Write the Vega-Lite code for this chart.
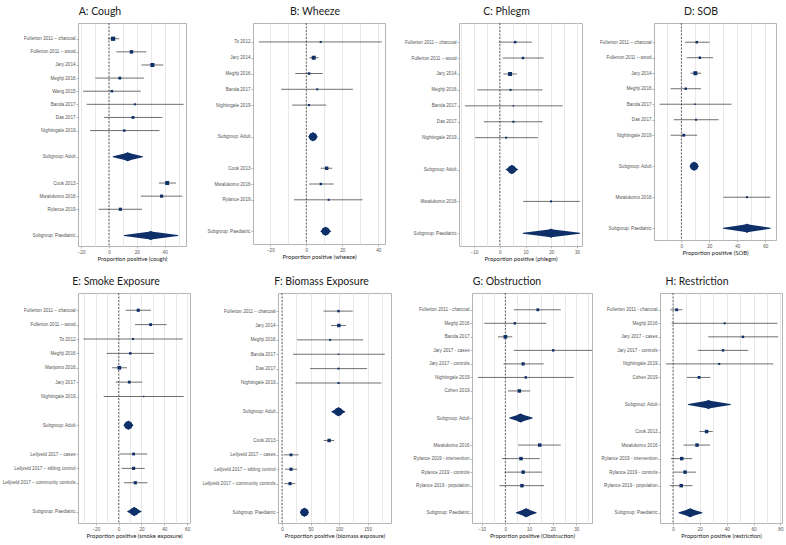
{
"$schema": "https://vega.github.io/schema/vega-lite/v6.json",
"padding": {"left": 0, "top": 6, "right": 0, "bottom": 0},
"datasets": {
"rows": [
{"p":"A","label":"Fullerton 2011 – charcoal","est":3.0,"lo":-0.8,"hi":7.4,"k":"s","w":9},
{"p":"A","label":"Fullerton 2011 – wood","est":16.2,"lo":5.3,"hi":26.8,"k":"s","w":6},
{"p":"A","label":"Jary 2014","est":31.2,"lo":23.4,"hi":39.0,"k":"s","w":8},
{"p":"A","label":"Meghji 2016","est":7.8,"lo":-9.7,"hi":25.1,"k":"s","w":4},
{"p":"A","label":"Wang 2015","est":2.1,"lo":-18.6,"hi":22.8,"k":"s","w":3},
{"p":"A","label":"Banda 2017","est":18.6,"lo":-16.0,"hi":53.6,"k":"s","w":2},
{"p":"A","label":"Das 2017","est":17.3,"lo":-3.4,"hi":38.4,"k":"s","w":4},
{"p":"A","label":"Nightingale 2019","est":11.0,"lo":-13.5,"hi":36.3,"k":"s","w":3},
{"p":"A","label":"Subgroup: Adult","est":13.5,"lo":3.0,"hi":24.1,"k":"g"},
{"p":"A","label":"Cook 2013","est":41.8,"lo":35.9,"hi":48.1,"k":"s","w":8},
{"p":"A","label":"Mwalukomo 2016","est":37.8,"lo":22.8,"hi":52.7,"k":"s","w":5},
{"p":"A","label":"Rylance 2019","est":8.2,"lo":-7.4,"hi":23.8,"k":"s","w":5},
{"p":"A","label":"Subgroup: Paediatric","est":30.0,"lo":11.0,"hi":49.4,"k":"g"},
{"p":"B","label":"To 2012","est":8.0,"lo":-26.3,"hi":41.9,"k":"s","w":2},
{"p":"B","label":"Jary 2014","est":4.1,"lo":1.7,"hi":6.7,"k":"s","w":8},
{"p":"B","label":"Meghji 2016","est":1.5,"lo":-6.1,"hi":9.1,"k":"s","w":3},
{"p":"B","label":"Banda 2017","est":6.1,"lo":-13.9,"hi":25.9,"k":"s","w":2},
{"p":"B","label":"Nightingale 2019","est":1.5,"lo":-7.8,"hi":11.1,"k":"s","w":2},
{"p":"B","label":"Subgroup: Adult","est":3.7,"lo":1.5,"hi":5.9,"k":"g"},
{"p":"B","label":"Cook 2013","est":11.3,"lo":8.0,"hi":14.4,"k":"s","w":6},
{"p":"B","label":"Mwalukomo 2016","est":8.1,"lo":1.5,"hi":15.2,"k":"s","w":3},
{"p":"B","label":"Rylance 2019","est":12.4,"lo":-6.9,"hi":31.3,"k":"s","w":2},
{"p":"B","label":"Subgroup: Paediatric","est":10.7,"lo":8.1,"hi":13.5,"k":"g"},
{"p":"C","label":"Fullerton 2011 – charcoal","est":6.0,"lo":-0.4,"hi":12.5,"k":"s","w":3},
{"p":"C","label":"Fullerton 2011 – wood","est":9.0,"lo":1.2,"hi":17.0,"k":"s","w":3},
{"p":"C","label":"Jary 2014","est":4.0,"lo":1.4,"hi":6.6,"k":"s","w":8},
{"p":"C","label":"Meghji 2016","est":4.2,"lo":-8.7,"hi":16.6,"k":"s","w":2},
{"p":"C","label":"Banda 2017","est":5.3,"lo":-13.5,"hi":24.4,"k":"s","w":1},
{"p":"C","label":"Das 2017","est":5.3,"lo":-6.2,"hi":16.6,"k":"s","w":2},
{"p":"C","label":"Nightingale 2019","est":2.5,"lo":-9.5,"hi":14.8,"k":"s","w":2},
{"p":"C","label":"Subgroup: Adult","est":4.7,"lo":2.5,"hi":6.9,"k":"g"},
{"p":"C","label":"Mwalukomo 2016","est":19.9,"lo":9.1,"hi":31.0,"k":"s","w":2},
{"p":"C","label":"Subgroup: Paediatric","est":19.9,"lo":9.1,"hi":31.0,"k":"g"},
{"p":"D","label":"Fullerton 2011 – charcoal","est":11.0,"lo":2.6,"hi":20.1,"k":"s","w":3},
{"p":"D","label":"Fullerton 2011 – wood","est":13.2,"lo":3.8,"hi":22.7,"k":"s","w":3},
{"p":"D","label":"Jary 2014","est":10.0,"lo":6.5,"hi":14.1,"k":"s","w":8},
{"p":"D","label":"Meghji 2016","est":3.1,"lo":-7.7,"hi":14.1,"k":"s","w":3},
{"p":"D","label":"Banda 2017","est":9.8,"lo":-15.5,"hi":35.9,"k":"s","w":1},
{"p":"D","label":"Das 2017","est":10.5,"lo":-5.5,"hi":26.6,"k":"s","w":2},
{"p":"D","label":"Nightingale 2019","est":1.7,"lo":-7.7,"hi":11.2,"k":"s","w":4},
{"p":"D","label":"Subgroup: Adult","est":9.1,"lo":6.5,"hi":12.0,"k":"g"},
{"p":"D","label":"Mwalukomo 2016","est":46.9,"lo":30.1,"hi":63.6,"k":"s","w":2},
{"p":"D","label":"Subgroup: Paediatric","est":46.9,"lo":30.1,"hi":63.6,"k":"g"},
{"p":"E","label":"Fullerton 2011 – charcoal","est":17.2,"lo":6.1,"hi":28.3,"k":"s","w":5},
{"p":"E","label":"Fullerton 2011 – wood","est":28.0,"lo":14.3,"hi":42.0,"k":"s","w":4},
{"p":"E","label":"To 2012","est":12.6,"lo":-30.9,"hi":56.1,"k":"s","w":2},
{"p":"E","label":"Meghji 2016","est":10.2,"lo":-10.5,"hi":30.7,"k":"s","w":3},
{"p":"E","label":"Manjomo 2016","est":0.6,"lo":-5.8,"hi":7.3,"k":"s","w":7},
{"p":"E","label":"Jary 2017","est":9.3,"lo":-2.6,"hi":20.7,"k":"s","w":4},
{"p":"E","label":"Nightingale 2019","est":21.9,"lo":-13.1,"hi":56.9,"k":"s","w":1},
{"p":"E","label":"Subgroup: Adult","est":8.5,"lo":4.7,"hi":12.6,"k":"g"},
{"p":"E","label":"Lelijveld 2017 – cases","est":13.1,"lo":0.9,"hi":25.1,"k":"s","w":4},
{"p":"E","label":"Lelijveld 2017 – sibling control","est":13.1,"lo":2.6,"hi":22.8,"k":"s","w":5},
{"p":"E","label":"Lelijveld 2017 – community controls","est":14.6,"lo":4.7,"hi":25.1,"k":"s","w":5},
{"p":"E","label":"Subgroup: Paediatric","est":13.7,"lo":7.9,"hi":19.6,"k":"g"},
{"p":"F","label":"Fullerton 2011 – charcoal","est":99,"lo":72.6,"hi":124,"k":"s","w":3},
{"p":"F","label":"Jary 2014","est":99.6,"lo":86,"hi":112,"k":"s","w":6},
{"p":"F","label":"Meghji 2016","est":84.4,"lo":26.4,"hi":142,"k":"s","w":2},
{"p":"F","label":"Banda 2017","est":99,"lo":19.3,"hi":180,"k":"s","w":1},
{"p":"F","label":"Das 2017","est":99,"lo":49.2,"hi":149,"k":"s","w":2},
{"p":"F","label":"Nightingale 2019","est":99,"lo":24,"hi":174,"k":"s","w":2},
{"p":"F","label":"Subgroup: Adult","est":99,"lo":87.3,"hi":110,"k":"g"},
{"p":"F","label":"Cook 2013","est":82.6,"lo":73.2,"hi":91.4,"k":"s","w":6},
{"p":"F","label":"Lelijveld 2017 – cases","est":15.8,"lo":2.9,"hi":29.3,"k":"s","w":4},
{"p":"F","label":"Lelijveld 2017 – sibling control","est":15.8,"lo":5.3,"hi":26.4,"k":"s","w":5},
{"p":"F","label":"Lelijveld 2017 – community controls","est":14.1,"lo":4.1,"hi":23.4,"k":"s","w":5},
{"p":"F","label":"Subgroup: Paediatric","est":39.3,"lo":34,"hi":44.5,"k":"g"},
{"p":"G","label":"Fullerton 2011 - charcoal","est":13.7,"lo":3.6,"hi":23.4,"k":"s","w":4},
{"p":"G","label":"Meghji 2016","est":4.0,"lo":-8.9,"hi":17.3,"k":"s","w":3},
{"p":"G","label":"Banda 2017","est":0.0,"lo":-3.1,"hi":2.9,"k":"s","w":7},
{"p":"G","label":"Jary 2017 - cases","est":20.2,"lo":3.6,"hi":36.8,"k":"s","w":3},
{"p":"G","label":"Jary 2017 - controls","est":7.5,"lo":-0.8,"hi":16.2,"k":"s","w":5},
{"p":"G","label":"Nightingale 2019","est":8.6,"lo":-11.6,"hi":28.9,"k":"s","w":3},
{"p":"G","label":"Cohen 2019","est":5.9,"lo":1.1,"hi":10.5,"k":"s","w":6},
{"p":"G","label":"Subgroup: Adult","est":6.4,"lo":1.8,"hi":11.4,"k":"g"},
{"p":"G","label":"Mwalukomo 2016","est":14.5,"lo":5.4,"hi":23.4,"k":"s","w":6},
{"p":"G","label":"Rylance 2019 - intervention","est":6.6,"lo":-1.4,"hi":14.5,"k":"s","w":6},
{"p":"G","label":"Rylance 2019 - controls","est":7.5,"lo":-0.4,"hi":15.5,"k":"s","w":6},
{"p":"G","label":"Rylance 2019 - population","est":7.0,"lo":-2.5,"hi":16.3,"k":"s","w":6},
{"p":"G","label":"Subgroup: Paediatric","est":8.8,"lo":4.6,"hi":13.0,"k":"g"},
{"p":"H","label":"Fullerton 2011 - charcoal","est":2.7,"lo":-1.9,"hi":7.0,"k":"s","w":4},
{"p":"H","label":"Meghji 2016","est":38.5,"lo":-1.0,"hi":77.8,"k":"s","w":2},
{"p":"H","label":"Jary 2017 - cases","est":52.1,"lo":26.2,"hi":78.3,"k":"s","w":3},
{"p":"H","label":"Jary 2017 - controls","est":37.3,"lo":18.4,"hi":56.0,"k":"s","w":3},
{"p":"H","label":"Nightingale 2019","est":34.4,"lo":-5.3,"hi":74.7,"k":"s","w":2},
{"p":"H","label":"Cohen 2019","est":19.4,"lo":10.4,"hi":27.9,"k":"s","w":4},
{"p":"H","label":"Subgroup: Adult","est":26.4,"lo":11.4,"hi":42.7,"k":"g"},
{"p":"H","label":"Cook 2013","est":25.0,"lo":19.6,"hi":29.6,"k":"s","w":6},
{"p":"H","label":"Mwalukomo 2016","est":17.9,"lo":7.8,"hi":27.6,"k":"s","w":6},
{"p":"H","label":"Rylance 2019 - intervention","est":6.5,"lo":-1.5,"hi":14.3,"k":"s","w":6},
{"p":"H","label":"Rylance 2019 - controls","est":9.0,"lo":0.5,"hi":17.2,"k":"s","w":6},
{"p":"H","label":"Rylance 2019 - population","est":6.1,"lo":-2.4,"hi":14.5,"k":"s","w":6},
{"p":"H","label":"Subgroup: Paediatric","est":12.8,"lo":4.4,"hi":21.6,"k":"g"}
]
},
"vconcat": [
{"hconcat": [
{"title": {"text": "A: Cough", "dx": -32}, "width": 108, "height": 223,
 "resolve": {"scale": {"size": "independent"}},
 "layer": [
  {"data": {"values": [{"ref": 0}]}, "mark": {"type": "rule", "color": "#444", "strokeDash": [2, 1.5], "strokeWidth": 0.8},
   "encoding": {"x": {"field": "ref", "type": "quantitative", "title": "Proportion positive (cough)", "scale": {"domain": [-22.2, 55.3], "nice": false, "zero": false}, "axis": {"values": [-20,-10,0,10,20,30,40,50], "labelExpr": "datum.value % 20 === 0 ? datum.label : ''", "tickOpacity": {"condition": {"test": "datum.value % 20 === 0", "value": 1}, "value": 0}}}}},
  {"data": {"name": "rows"}, "transform": [{"filter": "datum.p === 'A' && datum.k === 's'"}], "mark": {"type": "rule", "color": "#4a4a4a", "strokeWidth": 0.8, "clip": true},
   "encoding": {"x": {"field": "lo", "type": "quantitative", "title": "Proportion positive (cough)", "scale": {"domain": [-22.2, 55.3], "nice": false, "zero": false}, "axis": {"values": [-20,-10,0,10,20,30,40,50], "labelExpr": "datum.value % 20 === 0 ? datum.label : ''", "tickOpacity": {"condition": {"test": "datum.value % 20 === 0", "value": 1}, "value": 0}}}, "x2": {"field": "hi"},
    "y": {"field": "label", "type": "nominal", "scale": {"type": "point", "domain": ["Fullerton 2011 – charcoal","Fullerton 2011 – wood","Jary 2014","Meghji 2016","Wang 2015","Banda 2017","Das 2017","Nightingale 2019"," ","Subgroup: Adult","  ","Cook 2013","Mwalukomo 2016","Rylance 2019","   ","Subgroup: Paediatric"], "padding": 1.28, "align": 0.6}, "axis": {"values": ["Fullerton 2011 – charcoal","Fullerton 2011 – wood","Jary 2014","Meghji 2016","Wang 2015","Banda 2017","Das 2017","Nightingale 2019","Subgroup: Adult","Cook 2013","Mwalukomo 2016","Rylance 2019","Subgroup: Paediatric"], "title": null, "minExtent": 63}}}},
  {"data": {"name": "rows"}, "transform": [{"filter": "datum.p === 'A' && datum.k === 's'"}], "mark": {"type": "point", "shape": "square", "filled": true, "color": "#0e2f68", "opacity": 1, "clip": true},
   "encoding": {"x": {"field": "est", "type": "quantitative", "title": "Proportion positive (cough)", "scale": {"domain": [-22.2, 55.3], "nice": false, "zero": false}, "axis": {"values": [-20,-10,0,10,20,30,40,50], "labelExpr": "datum.value % 20 === 0 ? datum.label : ''", "tickOpacity": {"condition": {"test": "datum.value % 20 === 0", "value": 1}, "value": 0}}},
    "y": {"field": "label", "type": "nominal", "scale": {"type": "point", "domain": ["Fullerton 2011 – charcoal","Fullerton 2011 – wood","Jary 2014","Meghji 2016","Wang 2015","Banda 2017","Das 2017","Nightingale 2019"," ","Subgroup: Adult","  ","Cook 2013","Mwalukomo 2016","Rylance 2019","   ","Subgroup: Paediatric"], "padding": 1.28, "align": 0.6}, "axis": {"values": ["Fullerton 2011 – charcoal","Fullerton 2011 – wood","Jary 2014","Meghji 2016","Wang 2015","Banda 2017","Das 2017","Nightingale 2019","Subgroup: Adult","Cook 2013","Mwalukomo 2016","Rylance 2019","Subgroup: Paediatric"], "title": null, "minExtent": 63}},
    "size": {"field": "w", "type": "quantitative", "scale": {"domain": [0, 10], "range": [0, 20]}, "legend": null}}},
  {"data": {"name": "rows"}, "transform": [{"filter": "datum.p === 'A' && datum.k === 'g'"}], "mark": {"type": "point", "shape": "diamond", "filled": true, "size": 90, "color": "#0e2f68", "opacity": 1, "clip": true},
   "encoding": {"x": {"field": "est", "type": "quantitative", "title": "Proportion positive (cough)", "scale": {"domain": [-22.2, 55.3], "nice": false, "zero": false}, "axis": {"values": [-20,-10,0,10,20,30,40,50], "labelExpr": "datum.value % 20 === 0 ? datum.label : ''", "tickOpacity": {"condition": {"test": "datum.value % 20 === 0", "value": 1}, "value": 0}}},
    "y": {"field": "label", "type": "nominal", "scale": {"type": "point", "domain": ["Fullerton 2011 – charcoal","Fullerton 2011 – wood","Jary 2014","Meghji 2016","Wang 2015","Banda 2017","Das 2017","Nightingale 2019"," ","Subgroup: Adult","  ","Cook 2013","Mwalukomo 2016","Rylance 2019","   ","Subgroup: Paediatric"], "padding": 1.28, "align": 0.6}, "axis": {"values": ["Fullerton 2011 – charcoal","Fullerton 2011 – wood","Jary 2014","Meghji 2016","Wang 2015","Banda 2017","Das 2017","Nightingale 2019","Subgroup: Adult","Cook 2013","Mwalukomo 2016","Rylance 2019","Subgroup: Paediatric"], "title": null, "minExtent": 63}}}},
  {"data": {"name": "rows"}, "transform": [{"filter": "datum.p === 'A' && datum.k === 'g'"}, {"fold": ["lo", "est"], "as": ["pt", "xv"]}], "mark": {"type": "trail", "color": "#0e2f68", "clip": true},
   "encoding": {"x": {"field": "xv", "type": "quantitative", "title": "Proportion positive (cough)", "scale": {"domain": [-22.2, 55.3], "nice": false, "zero": false}, "axis": {"values": [-20,-10,0,10,20,30,40,50], "labelExpr": "datum.value % 20 === 0 ? datum.label : ''", "tickOpacity": {"condition": {"test": "datum.value % 20 === 0", "value": 1}, "value": 0}}},
    "y": {"field": "label", "type": "nominal", "scale": {"type": "point", "domain": ["Fullerton 2011 – charcoal","Fullerton 2011 – wood","Jary 2014","Meghji 2016","Wang 2015","Banda 2017","Das 2017","Nightingale 2019"," ","Subgroup: Adult","  ","Cook 2013","Mwalukomo 2016","Rylance 2019","   ","Subgroup: Paediatric"], "padding": 1.28, "align": 0.6}, "axis": {"values": ["Fullerton 2011 – charcoal","Fullerton 2011 – wood","Jary 2014","Meghji 2016","Wang 2015","Banda 2017","Das 2017","Nightingale 2019","Subgroup: Adult","Cook 2013","Mwalukomo 2016","Rylance 2019","Subgroup: Paediatric"], "title": null, "minExtent": 63}},
    "detail": {"field": "label"},
    "size": {"field": "pt", "type": "nominal", "scale": {"type": "point", "domain": ["lo", "est"], "range": [0, 8], "padding": 0}, "legend": null}}},
  {"data": {"name": "rows"}, "transform": [{"filter": "datum.p === 'A' && datum.k === 'g'"}, {"fold": ["est", "hi"], "as": ["pt", "xv"]}], "mark": {"type": "trail", "color": "#0e2f68", "clip": true},
   "encoding": {"x": {"field": "xv", "type": "quantitative", "title": "Proportion positive (cough)", "scale": {"domain": [-22.2, 55.3], "nice": false, "zero": false}, "axis": {"values": [-20,-10,0,10,20,30,40,50], "labelExpr": "datum.value % 20 === 0 ? datum.label : ''", "tickOpacity": {"condition": {"test": "datum.value % 20 === 0", "value": 1}, "value": 0}}},
    "y": {"field": "label", "type": "nominal", "scale": {"type": "point", "domain": ["Fullerton 2011 – charcoal","Fullerton 2011 – wood","Jary 2014","Meghji 2016","Wang 2015","Banda 2017","Das 2017","Nightingale 2019"," ","Subgroup: Adult","  ","Cook 2013","Mwalukomo 2016","Rylance 2019","   ","Subgroup: Paediatric"], "padding": 1.28, "align": 0.6}, "axis": {"values": ["Fullerton 2011 – charcoal","Fullerton 2011 – wood","Jary 2014","Meghji 2016","Wang 2015","Banda 2017","Das 2017","Nightingale 2019","Subgroup: Adult","Cook 2013","Mwalukomo 2016","Rylance 2019","Subgroup: Paediatric"], "title": null, "minExtent": 63}},
    "detail": {"field": "label"},
    "size": {"field": "pt", "type": "nominal", "scale": {"type": "point", "domain": ["hi", "est"], "range": [0, 8], "padding": 0}, "legend": null}}}
 ]},
{"title": {"text": "B: Wheeze", "dx": -4}, "width": 132, "height": 221,
 "resolve": {"scale": {"size": "independent"}},
 "layer": [
  {"data": {"values": [{"ref": 0}]}, "mark": {"type": "rule", "color": "#444", "strokeDash": [2, 1.5], "strokeWidth": 0.8},
   "encoding": {"x": {"field": "ref", "type": "quantitative", "title": "Proportion positive (wheeze)", "scale": {"domain": [-29.6, 43.7], "nice": false, "zero": false}, "axis": {"values": [-20,-10,0,10,20,30,40], "labelExpr": "datum.value % 20 === 0 ? datum.label : ''", "tickOpacity": {"condition": {"test": "datum.value % 20 === 0", "value": 1}, "value": 0}}}}},
  {"data": {"name": "rows"}, "transform": [{"filter": "datum.p === 'B' && datum.k === 's'"}], "mark": {"type": "rule", "color": "#4a4a4a", "strokeWidth": 0.8, "clip": true},
   "encoding": {"x": {"field": "lo", "type": "quantitative", "title": "Proportion positive (wheeze)", "scale": {"domain": [-29.6, 43.7], "nice": false, "zero": false}, "axis": {"values": [-20,-10,0,10,20,30,40], "labelExpr": "datum.value % 20 === 0 ? datum.label : ''", "tickOpacity": {"condition": {"test": "datum.value % 20 === 0", "value": 1}, "value": 0}}}, "x2": {"field": "hi"},
    "y": {"field": "label", "type": "nominal", "scale": {"type": "point", "domain": ["To 2012","Jary 2014","Meghji 2016","Banda 2017","Nightingale 2019"," ","Subgroup: Adult","  ","Cook 2013","Mwalukomo 2016","Rylance 2019","   ","Subgroup: Paediatric"], "padding": 1.28, "align": 0.6}, "axis": {"values": ["To 2012","Jary 2014","Meghji 2016","Banda 2017","Nightingale 2019","Subgroup: Adult","Cook 2013","Mwalukomo 2016","Rylance 2019","Subgroup: Paediatric"], "title": null, "minExtent": 65}}}},
  {"data": {"name": "rows"}, "transform": [{"filter": "datum.p === 'B' && datum.k === 's'"}], "mark": {"type": "point", "shape": "square", "filled": true, "color": "#0e2f68", "opacity": 1, "clip": true},
   "encoding": {"x": {"field": "est", "type": "quantitative", "title": "Proportion positive (wheeze)", "scale": {"domain": [-29.6, 43.7], "nice": false, "zero": false}, "axis": {"values": [-20,-10,0,10,20,30,40], "labelExpr": "datum.value % 20 === 0 ? datum.label : ''", "tickOpacity": {"condition": {"test": "datum.value % 20 === 0", "value": 1}, "value": 0}}},
    "y": {"field": "label", "type": "nominal", "scale": {"type": "point", "domain": ["To 2012","Jary 2014","Meghji 2016","Banda 2017","Nightingale 2019"," ","Subgroup: Adult","  ","Cook 2013","Mwalukomo 2016","Rylance 2019","   ","Subgroup: Paediatric"], "padding": 1.28, "align": 0.6}, "axis": {"values": ["To 2012","Jary 2014","Meghji 2016","Banda 2017","Nightingale 2019","Subgroup: Adult","Cook 2013","Mwalukomo 2016","Rylance 2019","Subgroup: Paediatric"], "title": null, "minExtent": 65}},
    "size": {"field": "w", "type": "quantitative", "scale": {"domain": [0, 10], "range": [0, 20]}, "legend": null}}},
  {"data": {"name": "rows"}, "transform": [{"filter": "datum.p === 'B' && datum.k === 'g'"}], "mark": {"type": "point", "shape": "diamond", "filled": true, "size": 90, "color": "#0e2f68", "opacity": 1, "clip": true},
   "encoding": {"x": {"field": "est", "type": "quantitative", "title": "Proportion positive (wheeze)", "scale": {"domain": [-29.6, 43.7], "nice": false, "zero": false}, "axis": {"values": [-20,-10,0,10,20,30,40], "labelExpr": "datum.value % 20 === 0 ? datum.label : ''", "tickOpacity": {"condition": {"test": "datum.value % 20 === 0", "value": 1}, "value": 0}}},
    "y": {"field": "label", "type": "nominal", "scale": {"type": "point", "domain": ["To 2012","Jary 2014","Meghji 2016","Banda 2017","Nightingale 2019"," ","Subgroup: Adult","  ","Cook 2013","Mwalukomo 2016","Rylance 2019","   ","Subgroup: Paediatric"], "padding": 1.28, "align": 0.6}, "axis": {"values": ["To 2012","Jary 2014","Meghji 2016","Banda 2017","Nightingale 2019","Subgroup: Adult","Cook 2013","Mwalukomo 2016","Rylance 2019","Subgroup: Paediatric"], "title": null, "minExtent": 65}}}},
  {"data": {"name": "rows"}, "transform": [{"filter": "datum.p === 'B' && datum.k === 'g'"}, {"fold": ["lo", "est"], "as": ["pt", "xv"]}], "mark": {"type": "trail", "color": "#0e2f68", "clip": true},
   "encoding": {"x": {"field": "xv", "type": "quantitative", "title": "Proportion positive (wheeze)", "scale": {"domain": [-29.6, 43.7], "nice": false, "zero": false}, "axis": {"values": [-20,-10,0,10,20,30,40], "labelExpr": "datum.value % 20 === 0 ? datum.label : ''", "tickOpacity": {"condition": {"test": "datum.value % 20 === 0", "value": 1}, "value": 0}}},
    "y": {"field": "label", "type": "nominal", "scale": {"type": "point", "domain": ["To 2012","Jary 2014","Meghji 2016","Banda 2017","Nightingale 2019"," ","Subgroup: Adult","  ","Cook 2013","Mwalukomo 2016","Rylance 2019","   ","Subgroup: Paediatric"], "padding": 1.28, "align": 0.6}, "axis": {"values": ["To 2012","Jary 2014","Meghji 2016","Banda 2017","Nightingale 2019","Subgroup: Adult","Cook 2013","Mwalukomo 2016","Rylance 2019","Subgroup: Paediatric"], "title": null, "minExtent": 65}},
    "detail": {"field": "label"},
    "size": {"field": "pt", "type": "nominal", "scale": {"type": "point", "domain": ["lo", "est"], "range": [0, 8], "padding": 0}, "legend": null}}},
  {"data": {"name": "rows"}, "transform": [{"filter": "datum.p === 'B' && datum.k === 'g'"}, {"fold": ["est", "hi"], "as": ["pt", "xv"]}], "mark": {"type": "trail", "color": "#0e2f68", "clip": true},
   "encoding": {"x": {"field": "xv", "type": "quantitative", "title": "Proportion positive (wheeze)", "scale": {"domain": [-29.6, 43.7], "nice": false, "zero": false}, "axis": {"values": [-20,-10,0,10,20,30,40], "labelExpr": "datum.value % 20 === 0 ? datum.label : ''", "tickOpacity": {"condition": {"test": "datum.value % 20 === 0", "value": 1}, "value": 0}}},
    "y": {"field": "label", "type": "nominal", "scale": {"type": "point", "domain": ["To 2012","Jary 2014","Meghji 2016","Banda 2017","Nightingale 2019"," ","Subgroup: Adult","  ","Cook 2013","Mwalukomo 2016","Rylance 2019","   ","Subgroup: Paediatric"], "padding": 1.28, "align": 0.6}, "axis": {"values": ["To 2012","Jary 2014","Meghji 2016","Banda 2017","Nightingale 2019","Subgroup: Adult","Cook 2013","Mwalukomo 2016","Rylance 2019","Subgroup: Paediatric"], "title": null, "minExtent": 65}},
    "detail": {"field": "label"},
    "size": {"field": "pt", "type": "nominal", "scale": {"type": "point", "domain": ["hi", "est"], "range": [0, 8], "padding": 0}, "legend": null}}}
 ]},
{"title": {"text": "C: Phlegm", "dx": -14}, "width": 123, "height": 223,
 "resolve": {"scale": {"size": "independent"}},
 "layer": [
  {"data": {"values": [{"ref": 0}]}, "mark": {"type": "rule", "color": "#444", "strokeDash": [2, 1.5], "strokeWidth": 0.8},
   "encoding": {"x": {"field": "ref", "type": "quantitative", "title": "Proportion positive (phlegm)", "scale": {"domain": [-15.8, 31.9], "nice": false, "zero": false}, "axis": {"values": [-15,-10,-5,0,5,10,15,20,25,30], "labelExpr": "datum.value % 10 === 0 ? datum.label : ''", "tickOpacity": {"condition": {"test": "datum.value % 10 === 0", "value": 1}, "value": 0}}}}},
  {"data": {"name": "rows"}, "transform": [{"filter": "datum.p === 'C' && datum.k === 's'"}], "mark": {"type": "rule", "color": "#4a4a4a", "strokeWidth": 0.8, "clip": true},
   "encoding": {"x": {"field": "lo", "type": "quantitative", "title": "Proportion positive (phlegm)", "scale": {"domain": [-15.8, 31.9], "nice": false, "zero": false}, "axis": {"values": [-15,-10,-5,0,5,10,15,20,25,30], "labelExpr": "datum.value % 10 === 0 ? datum.label : ''", "tickOpacity": {"condition": {"test": "datum.value % 10 === 0", "value": 1}, "value": 0}}}, "x2": {"field": "hi"},
    "y": {"field": "label", "type": "nominal", "scale": {"type": "point", "domain": ["Fullerton 2011 – charcoal","Fullerton 2011 – wood","Jary 2014","Meghji 2016","Banda 2017","Das 2017","Nightingale 2019"," ","Subgroup: Adult","  ","Mwalukomo 2016","   ","Subgroup: Paediatric"], "padding": 1.28, "align": 0.6}, "axis": {"values": ["Fullerton 2011 – charcoal","Fullerton 2011 – wood","Jary 2014","Meghji 2016","Banda 2017","Das 2017","Nightingale 2019","Subgroup: Adult","Mwalukomo 2016","Subgroup: Paediatric"], "title": null, "minExtent": 72}}}},
  {"data": {"name": "rows"}, "transform": [{"filter": "datum.p === 'C' && datum.k === 's'"}], "mark": {"type": "point", "shape": "square", "filled": true, "color": "#0e2f68", "opacity": 1, "clip": true},
   "encoding": {"x": {"field": "est", "type": "quantitative", "title": "Proportion positive (phlegm)", "scale": {"domain": [-15.8, 31.9], "nice": false, "zero": false}, "axis": {"values": [-15,-10,-5,0,5,10,15,20,25,30], "labelExpr": "datum.value % 10 === 0 ? datum.label : ''", "tickOpacity": {"condition": {"test": "datum.value % 10 === 0", "value": 1}, "value": 0}}},
    "y": {"field": "label", "type": "nominal", "scale": {"type": "point", "domain": ["Fullerton 2011 – charcoal","Fullerton 2011 – wood","Jary 2014","Meghji 2016","Banda 2017","Das 2017","Nightingale 2019"," ","Subgroup: Adult","  ","Mwalukomo 2016","   ","Subgroup: Paediatric"], "padding": 1.28, "align": 0.6}, "axis": {"values": ["Fullerton 2011 – charcoal","Fullerton 2011 – wood","Jary 2014","Meghji 2016","Banda 2017","Das 2017","Nightingale 2019","Subgroup: Adult","Mwalukomo 2016","Subgroup: Paediatric"], "title": null, "minExtent": 72}},
    "size": {"field": "w", "type": "quantitative", "scale": {"domain": [0, 10], "range": [0, 20]}, "legend": null}}},
  {"data": {"name": "rows"}, "transform": [{"filter": "datum.p === 'C' && datum.k === 'g'"}], "mark": {"type": "point", "shape": "diamond", "filled": true, "size": 90, "color": "#0e2f68", "opacity": 1, "clip": true},
   "encoding": {"x": {"field": "est", "type": "quantitative", "title": "Proportion positive (phlegm)", "scale": {"domain": [-15.8, 31.9], "nice": false, "zero": false}, "axis": {"values": [-15,-10,-5,0,5,10,15,20,25,30], "labelExpr": "datum.value % 10 === 0 ? datum.label : ''", "tickOpacity": {"condition": {"test": "datum.value % 10 === 0", "value": 1}, "value": 0}}},
    "y": {"field": "label", "type": "nominal", "scale": {"type": "point", "domain": ["Fullerton 2011 – charcoal","Fullerton 2011 – wood","Jary 2014","Meghji 2016","Banda 2017","Das 2017","Nightingale 2019"," ","Subgroup: Adult","  ","Mwalukomo 2016","   ","Subgroup: Paediatric"], "padding": 1.28, "align": 0.6}, "axis": {"values": ["Fullerton 2011 – charcoal","Fullerton 2011 – wood","Jary 2014","Meghji 2016","Banda 2017","Das 2017","Nightingale 2019","Subgroup: Adult","Mwalukomo 2016","Subgroup: Paediatric"], "title": null, "minExtent": 72}}}},
  {"data": {"name": "rows"}, "transform": [{"filter": "datum.p === 'C' && datum.k === 'g'"}, {"fold": ["lo", "est"], "as": ["pt", "xv"]}], "mark": {"type": "trail", "color": "#0e2f68", "clip": true},
   "encoding": {"x": {"field": "xv", "type": "quantitative", "title": "Proportion positive (phlegm)", "scale": {"domain": [-15.8, 31.9], "nice": false, "zero": false}, "axis": {"values": [-15,-10,-5,0,5,10,15,20,25,30], "labelExpr": "datum.value % 10 === 0 ? datum.label : ''", "tickOpacity": {"condition": {"test": "datum.value % 10 === 0", "value": 1}, "value": 0}}},
    "y": {"field": "label", "type": "nominal", "scale": {"type": "point", "domain": ["Fullerton 2011 – charcoal","Fullerton 2011 – wood","Jary 2014","Meghji 2016","Banda 2017","Das 2017","Nightingale 2019"," ","Subgroup: Adult","  ","Mwalukomo 2016","   ","Subgroup: Paediatric"], "padding": 1.28, "align": 0.6}, "axis": {"values": ["Fullerton 2011 – charcoal","Fullerton 2011 – wood","Jary 2014","Meghji 2016","Banda 2017","Das 2017","Nightingale 2019","Subgroup: Adult","Mwalukomo 2016","Subgroup: Paediatric"], "title": null, "minExtent": 72}},
    "detail": {"field": "label"},
    "size": {"field": "pt", "type": "nominal", "scale": {"type": "point", "domain": ["lo", "est"], "range": [0, 8], "padding": 0}, "legend": null}}},
  {"data": {"name": "rows"}, "transform": [{"filter": "datum.p === 'C' && datum.k === 'g'"}, {"fold": ["est", "hi"], "as": ["pt", "xv"]}], "mark": {"type": "trail", "color": "#0e2f68", "clip": true},
   "encoding": {"x": {"field": "xv", "type": "quantitative", "title": "Proportion positive (phlegm)", "scale": {"domain": [-15.8, 31.9], "nice": false, "zero": false}, "axis": {"values": [-15,-10,-5,0,5,10,15,20,25,30], "labelExpr": "datum.value % 10 === 0 ? datum.label : ''", "tickOpacity": {"condition": {"test": "datum.value % 10 === 0", "value": 1}, "value": 0}}},
    "y": {"field": "label", "type": "nominal", "scale": {"type": "point", "domain": ["Fullerton 2011 – charcoal","Fullerton 2011 – wood","Jary 2014","Meghji 2016","Banda 2017","Das 2017","Nightingale 2019"," ","Subgroup: Adult","  ","Mwalukomo 2016","   ","Subgroup: Paediatric"], "padding": 1.28, "align": 0.6}, "axis": {"values": ["Fullerton 2011 – charcoal","Fullerton 2011 – wood","Jary 2014","Meghji 2016","Banda 2017","Das 2017","Nightingale 2019","Subgroup: Adult","Mwalukomo 2016","Subgroup: Paediatric"], "title": null, "minExtent": 72}},
    "detail": {"field": "label"},
    "size": {"field": "pt", "type": "nominal", "scale": {"type": "point", "domain": ["hi", "est"], "range": [0, 8], "padding": 0}, "legend": null}}}
 ]},
{"title": {"text": "D: SOB", "dx": -14}, "width": 122, "height": 217,
 "resolve": {"scale": {"size": "independent"}},
 "layer": [
  {"data": {"values": [{"ref": 0}]}, "mark": {"type": "rule", "color": "#444", "strokeDash": [2, 1.5], "strokeWidth": 0.8},
   "encoding": {"x": {"field": "ref", "type": "quantitative", "title": "Proportion positive (SOB)", "scale": {"domain": [-19.6, 67.7], "nice": false, "zero": false}, "axis": {"values": [-10,0,10,20,30,40,50,60], "labelExpr": "datum.value % 20 === 0 ? datum.label : ''", "tickOpacity": {"condition": {"test": "datum.value % 20 === 0", "value": 1}, "value": 0}}}}},
  {"data": {"name": "rows"}, "transform": [{"filter": "datum.p === 'D' && datum.k === 's'"}], "mark": {"type": "rule", "color": "#4a4a4a", "strokeWidth": 0.8, "clip": true},
   "encoding": {"x": {"field": "lo", "type": "quantitative", "title": "Proportion positive (SOB)", "scale": {"domain": [-19.6, 67.7], "nice": false, "zero": false}, "axis": {"values": [-10,0,10,20,30,40,50,60], "labelExpr": "datum.value % 20 === 0 ? datum.label : ''", "tickOpacity": {"condition": {"test": "datum.value % 20 === 0", "value": 1}, "value": 0}}}, "x2": {"field": "hi"},
    "y": {"field": "label", "type": "nominal", "scale": {"type": "point", "domain": ["Fullerton 2011 – charcoal","Fullerton 2011 – wood","Jary 2014","Meghji 2016","Banda 2017","Das 2017","Nightingale 2019"," ","Subgroup: Adult","  ","Mwalukomo 2016","   ","Subgroup: Paediatric"], "padding": 1.28, "align": 0.62}, "axis": {"values": ["Fullerton 2011 – charcoal","Fullerton 2011 – wood","Jary 2014","Meghji 2016","Banda 2017","Das 2017","Nightingale 2019","Subgroup: Adult","Mwalukomo 2016","Subgroup: Paediatric"], "title": null, "minExtent": 70}}}},
  {"data": {"name": "rows"}, "transform": [{"filter": "datum.p === 'D' && datum.k === 's'"}], "mark": {"type": "point", "shape": "square", "filled": true, "color": "#0e2f68", "opacity": 1, "clip": true},
   "encoding": {"x": {"field": "est", "type": "quantitative", "title": "Proportion positive (SOB)", "scale": {"domain": [-19.6, 67.7], "nice": false, "zero": false}, "axis": {"values": [-10,0,10,20,30,40,50,60], "labelExpr": "datum.value % 20 === 0 ? datum.label : ''", "tickOpacity": {"condition": {"test": "datum.value % 20 === 0", "value": 1}, "value": 0}}},
    "y": {"field": "label", "type": "nominal", "scale": {"type": "point", "domain": ["Fullerton 2011 – charcoal","Fullerton 2011 – wood","Jary 2014","Meghji 2016","Banda 2017","Das 2017","Nightingale 2019"," ","Subgroup: Adult","  ","Mwalukomo 2016","   ","Subgroup: Paediatric"], "padding": 1.28, "align": 0.62}, "axis": {"values": ["Fullerton 2011 – charcoal","Fullerton 2011 – wood","Jary 2014","Meghji 2016","Banda 2017","Das 2017","Nightingale 2019","Subgroup: Adult","Mwalukomo 2016","Subgroup: Paediatric"], "title": null, "minExtent": 70}},
    "size": {"field": "w", "type": "quantitative", "scale": {"domain": [0, 10], "range": [0, 20]}, "legend": null}}},
  {"data": {"name": "rows"}, "transform": [{"filter": "datum.p === 'D' && datum.k === 'g'"}], "mark": {"type": "point", "shape": "diamond", "filled": true, "size": 90, "color": "#0e2f68", "opacity": 1, "clip": true},
   "encoding": {"x": {"field": "est", "type": "quantitative", "title": "Proportion positive (SOB)", "scale": {"domain": [-19.6, 67.7], "nice": false, "zero": false}, "axis": {"values": [-10,0,10,20,30,40,50,60], "labelExpr": "datum.value % 20 === 0 ? datum.label : ''", "tickOpacity": {"condition": {"test": "datum.value % 20 === 0", "value": 1}, "value": 0}}},
    "y": {"field": "label", "type": "nominal", "scale": {"type": "point", "domain": ["Fullerton 2011 – charcoal","Fullerton 2011 – wood","Jary 2014","Meghji 2016","Banda 2017","Das 2017","Nightingale 2019"," ","Subgroup: Adult","  ","Mwalukomo 2016","   ","Subgroup: Paediatric"], "padding": 1.28, "align": 0.62}, "axis": {"values": ["Fullerton 2011 – charcoal","Fullerton 2011 – wood","Jary 2014","Meghji 2016","Banda 2017","Das 2017","Nightingale 2019","Subgroup: Adult","Mwalukomo 2016","Subgroup: Paediatric"], "title": null, "minExtent": 70}}}},
  {"data": {"name": "rows"}, "transform": [{"filter": "datum.p === 'D' && datum.k === 'g'"}, {"fold": ["lo", "est"], "as": ["pt", "xv"]}], "mark": {"type": "trail", "color": "#0e2f68", "clip": true},
   "encoding": {"x": {"field": "xv", "type": "quantitative", "title": "Proportion positive (SOB)", "scale": {"domain": [-19.6, 67.7], "nice": false, "zero": false}, "axis": {"values": [-10,0,10,20,30,40,50,60], "labelExpr": "datum.value % 20 === 0 ? datum.label : ''", "tickOpacity": {"condition": {"test": "datum.value % 20 === 0", "value": 1}, "value": 0}}},
    "y": {"field": "label", "type": "nominal", "scale": {"type": "point", "domain": ["Fullerton 2011 – charcoal","Fullerton 2011 – wood","Jary 2014","Meghji 2016","Banda 2017","Das 2017","Nightingale 2019"," ","Subgroup: Adult","  ","Mwalukomo 2016","   ","Subgroup: Paediatric"], "padding": 1.28, "align": 0.62}, "axis": {"values": ["Fullerton 2011 – charcoal","Fullerton 2011 – wood","Jary 2014","Meghji 2016","Banda 2017","Das 2017","Nightingale 2019","Subgroup: Adult","Mwalukomo 2016","Subgroup: Paediatric"], "title": null, "minExtent": 70}},
    "detail": {"field": "label"},
    "size": {"field": "pt", "type": "nominal", "scale": {"type": "point", "domain": ["lo", "est"], "range": [0, 8], "padding": 0}, "legend": null}}},
  {"data": {"name": "rows"}, "transform": [{"filter": "datum.p === 'D' && datum.k === 'g'"}, {"fold": ["est", "hi"], "as": ["pt", "xv"]}], "mark": {"type": "trail", "color": "#0e2f68", "clip": true},
   "encoding": {"x": {"field": "xv", "type": "quantitative", "title": "Proportion positive (SOB)", "scale": {"domain": [-19.6, 67.7], "nice": false, "zero": false}, "axis": {"values": [-10,0,10,20,30,40,50,60], "labelExpr": "datum.value % 20 === 0 ? datum.label : ''", "tickOpacity": {"condition": {"test": "datum.value % 20 === 0", "value": 1}, "value": 0}}},
    "y": {"field": "label", "type": "nominal", "scale": {"type": "point", "domain": ["Fullerton 2011 – charcoal","Fullerton 2011 – wood","Jary 2014","Meghji 2016","Banda 2017","Das 2017","Nightingale 2019"," ","Subgroup: Adult","  ","Mwalukomo 2016","   ","Subgroup: Paediatric"], "padding": 1.28, "align": 0.62}, "axis": {"values": ["Fullerton 2011 – charcoal","Fullerton 2011 – wood","Jary 2014","Meghji 2016","Banda 2017","Das 2017","Nightingale 2019","Subgroup: Adult","Mwalukomo 2016","Subgroup: Paediatric"], "title": null, "minExtent": 70}},
    "detail": {"field": "label"},
    "size": {"field": "pt", "type": "nominal", "scale": {"type": "point", "domain": ["hi", "est"], "range": [0, 8], "padding": 0}, "legend": null}}}
 ]}
], "spacing": 0},
{"hconcat": [
{"title": {"text": "E: Smoke Exposure", "dx": -18}, "width": 112, "height": 230,
 "resolve": {"scale": {"size": "independent"}},
 "layer": [
  {"data": {"values": [{"ref": 0}]}, "mark": {"type": "rule", "color": "#444", "strokeDash": [2, 1.5], "strokeWidth": 0.8},
   "encoding": {"x": {"field": "ref", "type": "quantitative", "title": "Proportion positive (smoke exposure)", "scale": {"domain": [-35.6, 62.5], "nice": false, "zero": false}, "axis": {"values": [-30,-20,-10,0,10,20,30,40,50,60], "labelExpr": "datum.value % 20 === 0 ? datum.label : ''", "tickOpacity": {"condition": {"test": "datum.value % 20 === 0", "value": 1}, "value": 0}}}}},
  {"data": {"name": "rows"}, "transform": [{"filter": "datum.p === 'E' && datum.k === 's'"}], "mark": {"type": "rule", "color": "#4a4a4a", "strokeWidth": 0.8, "clip": true},
   "encoding": {"x": {"field": "lo", "type": "quantitative", "title": "Proportion positive (smoke exposure)", "scale": {"domain": [-35.6, 62.5], "nice": false, "zero": false}, "axis": {"values": [-30,-20,-10,0,10,20,30,40,50,60], "labelExpr": "datum.value % 20 === 0 ? datum.label : ''", "tickOpacity": {"condition": {"test": "datum.value % 20 === 0", "value": 1}, "value": 0}}}, "x2": {"field": "hi"},
    "y": {"field": "label", "type": "nominal", "scale": {"type": "point", "domain": ["Fullerton 2011 – charcoal","Fullerton 2011 – wood","To 2012","Meghji 2016","Manjomo 2016","Jary 2017","Nightingale 2019"," ","Subgroup: Adult","  ","Lelijveld 2017 – cases","Lelijveld 2017 – sibling control","Lelijveld 2017 – community controls","   ","Subgroup: Paediatric"], "padding": 1.25, "align": 0.6}, "axis": {"values": ["Fullerton 2011 – charcoal","Fullerton 2011 – wood","To 2012","Meghji 2016","Manjomo 2016","Jary 2017","Nightingale 2019","Subgroup: Adult","Lelijveld 2017 – cases","Lelijveld 2017 – sibling control","Lelijveld 2017 – community controls","Subgroup: Paediatric"], "title": null, "minExtent": 77}}}},
  {"data": {"name": "rows"}, "transform": [{"filter": "datum.p === 'E' && datum.k === 's'"}], "mark": {"type": "point", "shape": "square", "filled": true, "color": "#0e2f68", "opacity": 1, "clip": true},
   "encoding": {"x": {"field": "est", "type": "quantitative", "title": "Proportion positive (smoke exposure)", "scale": {"domain": [-35.6, 62.5], "nice": false, "zero": false}, "axis": {"values": [-30,-20,-10,0,10,20,30,40,50,60], "labelExpr": "datum.value % 20 === 0 ? datum.label : ''", "tickOpacity": {"condition": {"test": "datum.value % 20 === 0", "value": 1}, "value": 0}}},
    "y": {"field": "label", "type": "nominal", "scale": {"type": "point", "domain": ["Fullerton 2011 – charcoal","Fullerton 2011 – wood","To 2012","Meghji 2016","Manjomo 2016","Jary 2017","Nightingale 2019"," ","Subgroup: Adult","  ","Lelijveld 2017 – cases","Lelijveld 2017 – sibling control","Lelijveld 2017 – community controls","   ","Subgroup: Paediatric"], "padding": 1.25, "align": 0.6}, "axis": {"values": ["Fullerton 2011 – charcoal","Fullerton 2011 – wood","To 2012","Meghji 2016","Manjomo 2016","Jary 2017","Nightingale 2019","Subgroup: Adult","Lelijveld 2017 – cases","Lelijveld 2017 – sibling control","Lelijveld 2017 – community controls","Subgroup: Paediatric"], "title": null, "minExtent": 77}},
    "size": {"field": "w", "type": "quantitative", "scale": {"domain": [0, 10], "range": [0, 20]}, "legend": null}}},
  {"data": {"name": "rows"}, "transform": [{"filter": "datum.p === 'E' && datum.k === 'g'"}], "mark": {"type": "point", "shape": "diamond", "filled": true, "size": 90, "color": "#0e2f68", "opacity": 1, "clip": true},
   "encoding": {"x": {"field": "est", "type": "quantitative", "title": "Proportion positive (smoke exposure)", "scale": {"domain": [-35.6, 62.5], "nice": false, "zero": false}, "axis": {"values": [-30,-20,-10,0,10,20,30,40,50,60], "labelExpr": "datum.value % 20 === 0 ? datum.label : ''", "tickOpacity": {"condition": {"test": "datum.value % 20 === 0", "value": 1}, "value": 0}}},
    "y": {"field": "label", "type": "nominal", "scale": {"type": "point", "domain": ["Fullerton 2011 – charcoal","Fullerton 2011 – wood","To 2012","Meghji 2016","Manjomo 2016","Jary 2017","Nightingale 2019"," ","Subgroup: Adult","  ","Lelijveld 2017 – cases","Lelijveld 2017 – sibling control","Lelijveld 2017 – community controls","   ","Subgroup: Paediatric"], "padding": 1.25, "align": 0.6}, "axis": {"values": ["Fullerton 2011 – charcoal","Fullerton 2011 – wood","To 2012","Meghji 2016","Manjomo 2016","Jary 2017","Nightingale 2019","Subgroup: Adult","Lelijveld 2017 – cases","Lelijveld 2017 – sibling control","Lelijveld 2017 – community controls","Subgroup: Paediatric"], "title": null, "minExtent": 77}}}},
  {"data": {"name": "rows"}, "transform": [{"filter": "datum.p === 'E' && datum.k === 'g'"}, {"fold": ["lo", "est"], "as": ["pt", "xv"]}], "mark": {"type": "trail", "color": "#0e2f68", "clip": true},
   "encoding": {"x": {"field": "xv", "type": "quantitative", "title": "Proportion positive (smoke exposure)", "scale": {"domain": [-35.6, 62.5], "nice": false, "zero": false}, "axis": {"values": [-30,-20,-10,0,10,20,30,40,50,60], "labelExpr": "datum.value % 20 === 0 ? datum.label : ''", "tickOpacity": {"condition": {"test": "datum.value % 20 === 0", "value": 1}, "value": 0}}},
    "y": {"field": "label", "type": "nominal", "scale": {"type": "point", "domain": ["Fullerton 2011 – charcoal","Fullerton 2011 – wood","To 2012","Meghji 2016","Manjomo 2016","Jary 2017","Nightingale 2019"," ","Subgroup: Adult","  ","Lelijveld 2017 – cases","Lelijveld 2017 – sibling control","Lelijveld 2017 – community controls","   ","Subgroup: Paediatric"], "padding": 1.25, "align": 0.6}, "axis": {"values": ["Fullerton 2011 – charcoal","Fullerton 2011 – wood","To 2012","Meghji 2016","Manjomo 2016","Jary 2017","Nightingale 2019","Subgroup: Adult","Lelijveld 2017 – cases","Lelijveld 2017 – sibling control","Lelijveld 2017 – community controls","Subgroup: Paediatric"], "title": null, "minExtent": 77}},
    "detail": {"field": "label"},
    "size": {"field": "pt", "type": "nominal", "scale": {"type": "point", "domain": ["lo", "est"], "range": [0, 8], "padding": 0}, "legend": null}}},
  {"data": {"name": "rows"}, "transform": [{"filter": "datum.p === 'E' && datum.k === 'g'"}, {"fold": ["est", "hi"], "as": ["pt", "xv"]}], "mark": {"type": "trail", "color": "#0e2f68", "clip": true},
   "encoding": {"x": {"field": "xv", "type": "quantitative", "title": "Proportion positive (smoke exposure)", "scale": {"domain": [-35.6, 62.5], "nice": false, "zero": false}, "axis": {"values": [-30,-20,-10,0,10,20,30,40,50,60], "labelExpr": "datum.value % 20 === 0 ? datum.label : ''", "tickOpacity": {"condition": {"test": "datum.value % 20 === 0", "value": 1}, "value": 0}}},
    "y": {"field": "label", "type": "nominal", "scale": {"type": "point", "domain": ["Fullerton 2011 – charcoal","Fullerton 2011 – wood","To 2012","Meghji 2016","Manjomo 2016","Jary 2017","Nightingale 2019"," ","Subgroup: Adult","  ","Lelijveld 2017 – cases","Lelijveld 2017 – sibling control","Lelijveld 2017 – community controls","   ","Subgroup: Paediatric"], "padding": 1.25, "align": 0.6}, "axis": {"values": ["Fullerton 2011 – charcoal","Fullerton 2011 – wood","To 2012","Meghji 2016","Manjomo 2016","Jary 2017","Nightingale 2019","Subgroup: Adult","Lelijveld 2017 – cases","Lelijveld 2017 – sibling control","Lelijveld 2017 – community controls","Subgroup: Paediatric"], "title": null, "minExtent": 77}},
    "detail": {"field": "label"},
    "size": {"field": "pt", "type": "nominal", "scale": {"type": "point", "domain": ["hi", "est"], "range": [0, 8], "padding": 0}, "legend": null}}}
 ]},
{"title": {"text": "F: Biomass Exposure", "dx": -13}, "width": 113, "height": 230,
 "resolve": {"scale": {"size": "independent"}},
 "layer": [
  {"data": {"values": [{"ref": 0}]}, "mark": {"type": "rule", "color": "#444", "strokeDash": [2, 1.5], "strokeWidth": 0.8},
   "encoding": {"x": {"field": "ref", "type": "quantitative", "title": "Proportion positive (biomass exposure)", "scale": {"domain": [-7, 191], "nice": false, "zero": false}, "axis": {"values": [0,25,50,75,100,125,150,175], "labelExpr": "datum.value % 50 === 0 ? datum.label : ''", "tickOpacity": {"condition": {"test": "datum.value % 50 === 0", "value": 1}, "value": 0}}}}},
  {"data": {"name": "rows"}, "transform": [{"filter": "datum.p === 'F' && datum.k === 's'"}], "mark": {"type": "rule", "color": "#4a4a4a", "strokeWidth": 0.8, "clip": true},
   "encoding": {"x": {"field": "lo", "type": "quantitative", "title": "Proportion positive (biomass exposure)", "scale": {"domain": [-7, 191], "nice": false, "zero": false}, "axis": {"values": [0,25,50,75,100,125,150,175], "labelExpr": "datum.value % 50 === 0 ? datum.label : ''", "tickOpacity": {"condition": {"test": "datum.value % 50 === 0", "value": 1}, "value": 0}}}, "x2": {"field": "hi"},
    "y": {"field": "label", "type": "nominal", "scale": {"type": "point", "domain": ["Fullerton 2011 – charcoal","Jary 2014","Meghji 2016","Banda 2017","Das 2017","Nightingale 2019"," ","Subgroup: Adult","  ","Cook 2013","Lelijveld 2017 – cases","Lelijveld 2017 – sibling control","Lelijveld 2017 – community controls","   ","Subgroup: Paediatric"], "padding": 1.24, "align": 0.63}, "axis": {"values": ["Fullerton 2011 – charcoal","Jary 2014","Meghji 2016","Banda 2017","Das 2017","Nightingale 2019","Subgroup: Adult","Cook 2013","Lelijveld 2017 – cases","Lelijveld 2017 – sibling control","Lelijveld 2017 – community controls","Subgroup: Paediatric"], "title": null, "minExtent": 86}}}},
  {"data": {"name": "rows"}, "transform": [{"filter": "datum.p === 'F' && datum.k === 's'"}], "mark": {"type": "point", "shape": "square", "filled": true, "color": "#0e2f68", "opacity": 1, "clip": true},
   "encoding": {"x": {"field": "est", "type": "quantitative", "title": "Proportion positive (biomass exposure)", "scale": {"domain": [-7, 191], "nice": false, "zero": false}, "axis": {"values": [0,25,50,75,100,125,150,175], "labelExpr": "datum.value % 50 === 0 ? datum.label : ''", "tickOpacity": {"condition": {"test": "datum.value % 50 === 0", "value": 1}, "value": 0}}},
    "y": {"field": "label", "type": "nominal", "scale": {"type": "point", "domain": ["Fullerton 2011 – charcoal","Jary 2014","Meghji 2016","Banda 2017","Das 2017","Nightingale 2019"," ","Subgroup: Adult","  ","Cook 2013","Lelijveld 2017 – cases","Lelijveld 2017 – sibling control","Lelijveld 2017 – community controls","   ","Subgroup: Paediatric"], "padding": 1.24, "align": 0.63}, "axis": {"values": ["Fullerton 2011 – charcoal","Jary 2014","Meghji 2016","Banda 2017","Das 2017","Nightingale 2019","Subgroup: Adult","Cook 2013","Lelijveld 2017 – cases","Lelijveld 2017 – sibling control","Lelijveld 2017 – community controls","Subgroup: Paediatric"], "title": null, "minExtent": 86}},
    "size": {"field": "w", "type": "quantitative", "scale": {"domain": [0, 10], "range": [0, 20]}, "legend": null}}},
  {"data": {"name": "rows"}, "transform": [{"filter": "datum.p === 'F' && datum.k === 'g'"}], "mark": {"type": "point", "shape": "diamond", "filled": true, "size": 90, "color": "#0e2f68", "opacity": 1, "clip": true},
   "encoding": {"x": {"field": "est", "type": "quantitative", "title": "Proportion positive (biomass exposure)", "scale": {"domain": [-7, 191], "nice": false, "zero": false}, "axis": {"values": [0,25,50,75,100,125,150,175], "labelExpr": "datum.value % 50 === 0 ? datum.label : ''", "tickOpacity": {"condition": {"test": "datum.value % 50 === 0", "value": 1}, "value": 0}}},
    "y": {"field": "label", "type": "nominal", "scale": {"type": "point", "domain": ["Fullerton 2011 – charcoal","Jary 2014","Meghji 2016","Banda 2017","Das 2017","Nightingale 2019"," ","Subgroup: Adult","  ","Cook 2013","Lelijveld 2017 – cases","Lelijveld 2017 – sibling control","Lelijveld 2017 – community controls","   ","Subgroup: Paediatric"], "padding": 1.24, "align": 0.63}, "axis": {"values": ["Fullerton 2011 – charcoal","Jary 2014","Meghji 2016","Banda 2017","Das 2017","Nightingale 2019","Subgroup: Adult","Cook 2013","Lelijveld 2017 – cases","Lelijveld 2017 – sibling control","Lelijveld 2017 – community controls","Subgroup: Paediatric"], "title": null, "minExtent": 86}}}},
  {"data": {"name": "rows"}, "transform": [{"filter": "datum.p === 'F' && datum.k === 'g'"}, {"fold": ["lo", "est"], "as": ["pt", "xv"]}], "mark": {"type": "trail", "color": "#0e2f68", "clip": true},
   "encoding": {"x": {"field": "xv", "type": "quantitative", "title": "Proportion positive (biomass exposure)", "scale": {"domain": [-7, 191], "nice": false, "zero": false}, "axis": {"values": [0,25,50,75,100,125,150,175], "labelExpr": "datum.value % 50 === 0 ? datum.label : ''", "tickOpacity": {"condition": {"test": "datum.value % 50 === 0", "value": 1}, "value": 0}}},
    "y": {"field": "label", "type": "nominal", "scale": {"type": "point", "domain": ["Fullerton 2011 – charcoal","Jary 2014","Meghji 2016","Banda 2017","Das 2017","Nightingale 2019"," ","Subgroup: Adult","  ","Cook 2013","Lelijveld 2017 – cases","Lelijveld 2017 – sibling control","Lelijveld 2017 – community controls","   ","Subgroup: Paediatric"], "padding": 1.24, "align": 0.63}, "axis": {"values": ["Fullerton 2011 – charcoal","Jary 2014","Meghji 2016","Banda 2017","Das 2017","Nightingale 2019","Subgroup: Adult","Cook 2013","Lelijveld 2017 – cases","Lelijveld 2017 – sibling control","Lelijveld 2017 – community controls","Subgroup: Paediatric"], "title": null, "minExtent": 86}},
    "detail": {"field": "label"},
    "size": {"field": "pt", "type": "nominal", "scale": {"type": "point", "domain": ["lo", "est"], "range": [0, 8], "padding": 0}, "legend": null}}},
  {"data": {"name": "rows"}, "transform": [{"filter": "datum.p === 'F' && datum.k === 'g'"}, {"fold": ["est", "hi"], "as": ["pt", "xv"]}], "mark": {"type": "trail", "color": "#0e2f68", "clip": true},
   "encoding": {"x": {"field": "xv", "type": "quantitative", "title": "Proportion positive (biomass exposure)", "scale": {"domain": [-7, 191], "nice": false, "zero": false}, "axis": {"values": [0,25,50,75,100,125,150,175], "labelExpr": "datum.value % 50 === 0 ? datum.label : ''", "tickOpacity": {"condition": {"test": "datum.value % 50 === 0", "value": 1}, "value": 0}}},
    "y": {"field": "label", "type": "nominal", "scale": {"type": "point", "domain": ["Fullerton 2011 – charcoal","Jary 2014","Meghji 2016","Banda 2017","Das 2017","Nightingale 2019"," ","Subgroup: Adult","  ","Cook 2013","Lelijveld 2017 – cases","Lelijveld 2017 – sibling control","Lelijveld 2017 – community controls","   ","Subgroup: Paediatric"], "padding": 1.24, "align": 0.63}, "axis": {"values": ["Fullerton 2011 – charcoal","Jary 2014","Meghji 2016","Banda 2017","Das 2017","Nightingale 2019","Subgroup: Adult","Cook 2013","Lelijveld 2017 – cases","Lelijveld 2017 – sibling control","Lelijveld 2017 – community controls","Subgroup: Paediatric"], "title": null, "minExtent": 86}},
    "detail": {"field": "label"},
    "size": {"field": "pt", "type": "nominal", "scale": {"type": "point", "domain": ["hi", "est"], "range": [0, 8], "padding": 0}, "legend": null}}}
 ]},
{"title": {"text": "G: Obstruction", "dx": -25}, "width": 120, "height": 230,
 "resolve": {"scale": {"size": "independent"}},
 "layer": [
  {"data": {"values": [{"ref": 0}]}, "mark": {"type": "rule", "color": "#444", "strokeDash": [2, 1.5], "strokeWidth": 0.8},
   "encoding": {"x": {"field": "ref", "type": "quantitative", "title": "Proportion positive (Obstruction)", "scale": {"domain": [-14.1, 36.6], "nice": false, "zero": false}, "axis": {"values": [-10,-5,0,5,10,15,20,25,30,35], "labelExpr": "datum.value % 10 === 0 ? datum.label : ''", "tickOpacity": {"condition": {"test": "datum.value % 10 === 0", "value": 1}, "value": 0}}}}},
  {"data": {"name": "rows"}, "transform": [{"filter": "datum.p === 'G' && datum.k === 's'"}], "mark": {"type": "rule", "color": "#4a4a4a", "strokeWidth": 0.8, "clip": true},
   "encoding": {"x": {"field": "lo", "type": "quantitative", "title": "Proportion positive (Obstruction)", "scale": {"domain": [-14.1, 36.6], "nice": false, "zero": false}, "axis": {"values": [-10,-5,0,5,10,15,20,25,30,35], "labelExpr": "datum.value % 10 === 0 ? datum.label : ''", "tickOpacity": {"condition": {"test": "datum.value % 10 === 0", "value": 1}, "value": 0}}}, "x2": {"field": "hi"},
    "y": {"field": "label", "type": "nominal", "scale": {"type": "point", "domain": ["Fullerton 2011 - charcoal","Meghji 2016","Banda 2017","Jary 2017 - cases","Jary 2017 - controls","Nightingale 2019","Cohen 2019"," ","Subgroup: Adult","  ","Mwalukomo 2016","Rylance 2019 - intervention","Rylance 2019 - controls","Rylance 2019 - population","   ","Subgroup: Paediatric"], "padding": 1.17, "align": 0.62}, "axis": {"values": ["Fullerton 2011 - charcoal","Meghji 2016","Banda 2017","Jary 2017 - cases","Jary 2017 - controls","Nightingale 2019","Cohen 2019","Subgroup: Adult","Mwalukomo 2016","Rylance 2019 - intervention","Rylance 2019 - controls","Rylance 2019 - population","Subgroup: Paediatric"], "title": null, "minExtent": 79}}}},
  {"data": {"name": "rows"}, "transform": [{"filter": "datum.p === 'G' && datum.k === 's'"}], "mark": {"type": "point", "shape": "square", "filled": true, "color": "#0e2f68", "opacity": 1, "clip": true},
   "encoding": {"x": {"field": "est", "type": "quantitative", "title": "Proportion positive (Obstruction)", "scale": {"domain": [-14.1, 36.6], "nice": false, "zero": false}, "axis": {"values": [-10,-5,0,5,10,15,20,25,30,35], "labelExpr": "datum.value % 10 === 0 ? datum.label : ''", "tickOpacity": {"condition": {"test": "datum.value % 10 === 0", "value": 1}, "value": 0}}},
    "y": {"field": "label", "type": "nominal", "scale": {"type": "point", "domain": ["Fullerton 2011 - charcoal","Meghji 2016","Banda 2017","Jary 2017 - cases","Jary 2017 - controls","Nightingale 2019","Cohen 2019"," ","Subgroup: Adult","  ","Mwalukomo 2016","Rylance 2019 - intervention","Rylance 2019 - controls","Rylance 2019 - population","   ","Subgroup: Paediatric"], "padding": 1.17, "align": 0.62}, "axis": {"values": ["Fullerton 2011 - charcoal","Meghji 2016","Banda 2017","Jary 2017 - cases","Jary 2017 - controls","Nightingale 2019","Cohen 2019","Subgroup: Adult","Mwalukomo 2016","Rylance 2019 - intervention","Rylance 2019 - controls","Rylance 2019 - population","Subgroup: Paediatric"], "title": null, "minExtent": 79}},
    "size": {"field": "w", "type": "quantitative", "scale": {"domain": [0, 10], "range": [0, 20]}, "legend": null}}},
  {"data": {"name": "rows"}, "transform": [{"filter": "datum.p === 'G' && datum.k === 'g'"}], "mark": {"type": "point", "shape": "diamond", "filled": true, "size": 90, "color": "#0e2f68", "opacity": 1, "clip": true},
   "encoding": {"x": {"field": "est", "type": "quantitative", "title": "Proportion positive (Obstruction)", "scale": {"domain": [-14.1, 36.6], "nice": false, "zero": false}, "axis": {"values": [-10,-5,0,5,10,15,20,25,30,35], "labelExpr": "datum.value % 10 === 0 ? datum.label : ''", "tickOpacity": {"condition": {"test": "datum.value % 10 === 0", "value": 1}, "value": 0}}},
    "y": {"field": "label", "type": "nominal", "scale": {"type": "point", "domain": ["Fullerton 2011 - charcoal","Meghji 2016","Banda 2017","Jary 2017 - cases","Jary 2017 - controls","Nightingale 2019","Cohen 2019"," ","Subgroup: Adult","  ","Mwalukomo 2016","Rylance 2019 - intervention","Rylance 2019 - controls","Rylance 2019 - population","   ","Subgroup: Paediatric"], "padding": 1.17, "align": 0.62}, "axis": {"values": ["Fullerton 2011 - charcoal","Meghji 2016","Banda 2017","Jary 2017 - cases","Jary 2017 - controls","Nightingale 2019","Cohen 2019","Subgroup: Adult","Mwalukomo 2016","Rylance 2019 - intervention","Rylance 2019 - controls","Rylance 2019 - population","Subgroup: Paediatric"], "title": null, "minExtent": 79}}}},
  {"data": {"name": "rows"}, "transform": [{"filter": "datum.p === 'G' && datum.k === 'g'"}, {"fold": ["lo", "est"], "as": ["pt", "xv"]}], "mark": {"type": "trail", "color": "#0e2f68", "clip": true},
   "encoding": {"x": {"field": "xv", "type": "quantitative", "title": "Proportion positive (Obstruction)", "scale": {"domain": [-14.1, 36.6], "nice": false, "zero": false}, "axis": {"values": [-10,-5,0,5,10,15,20,25,30,35], "labelExpr": "datum.value % 10 === 0 ? datum.label : ''", "tickOpacity": {"condition": {"test": "datum.value % 10 === 0", "value": 1}, "value": 0}}},
    "y": {"field": "label", "type": "nominal", "scale": {"type": "point", "domain": ["Fullerton 2011 - charcoal","Meghji 2016","Banda 2017","Jary 2017 - cases","Jary 2017 - controls","Nightingale 2019","Cohen 2019"," ","Subgroup: Adult","  ","Mwalukomo 2016","Rylance 2019 - intervention","Rylance 2019 - controls","Rylance 2019 - population","   ","Subgroup: Paediatric"], "padding": 1.17, "align": 0.62}, "axis": {"values": ["Fullerton 2011 - charcoal","Meghji 2016","Banda 2017","Jary 2017 - cases","Jary 2017 - controls","Nightingale 2019","Cohen 2019","Subgroup: Adult","Mwalukomo 2016","Rylance 2019 - intervention","Rylance 2019 - controls","Rylance 2019 - population","Subgroup: Paediatric"], "title": null, "minExtent": 79}},
    "detail": {"field": "label"},
    "size": {"field": "pt", "type": "nominal", "scale": {"type": "point", "domain": ["lo", "est"], "range": [0, 8], "padding": 0}, "legend": null}}},
  {"data": {"name": "rows"}, "transform": [{"filter": "datum.p === 'G' && datum.k === 'g'"}, {"fold": ["est", "hi"], "as": ["pt", "xv"]}], "mark": {"type": "trail", "color": "#0e2f68", "clip": true},
   "encoding": {"x": {"field": "xv", "type": "quantitative", "title": "Proportion positive (Obstruction)", "scale": {"domain": [-14.1, 36.6], "nice": false, "zero": false}, "axis": {"values": [-10,-5,0,5,10,15,20,25,30,35], "labelExpr": "datum.value % 10 === 0 ? datum.label : ''", "tickOpacity": {"condition": {"test": "datum.value % 10 === 0", "value": 1}, "value": 0}}},
    "y": {"field": "label", "type": "nominal", "scale": {"type": "point", "domain": ["Fullerton 2011 - charcoal","Meghji 2016","Banda 2017","Jary 2017 - cases","Jary 2017 - controls","Nightingale 2019","Cohen 2019"," ","Subgroup: Adult","  ","Mwalukomo 2016","Rylance 2019 - intervention","Rylance 2019 - controls","Rylance 2019 - population","   ","Subgroup: Paediatric"], "padding": 1.17, "align": 0.62}, "axis": {"values": ["Fullerton 2011 - charcoal","Meghji 2016","Banda 2017","Jary 2017 - cases","Jary 2017 - controls","Nightingale 2019","Cohen 2019","Subgroup: Adult","Mwalukomo 2016","Rylance 2019 - intervention","Rylance 2019 - controls","Rylance 2019 - population","Subgroup: Paediatric"], "title": null, "minExtent": 79}},
    "detail": {"field": "label"},
    "size": {"field": "pt", "type": "nominal", "scale": {"type": "point", "domain": ["hi", "est"], "range": [0, 8], "padding": 0}, "legend": null}}}
 ]},
{"title": {"text": "H: Restriction", "dx": -24}, "width": 122, "height": 230,
 "resolve": {"scale": {"size": "independent"}},
 "layer": [
  {"data": {"values": [{"ref": 0}]}, "mark": {"type": "rule", "color": "#444", "strokeDash": [2, 1.5], "strokeWidth": 0.8},
   "encoding": {"x": {"field": "ref", "type": "quantitative", "title": "Proportion positive (restriction)", "scale": {"domain": [-9.7, 81.2], "nice": false, "zero": false}, "axis": {"values": [0,10,20,30,40,50,60,70,80], "labelExpr": "datum.value % 20 === 0 ? datum.label : ''", "tickOpacity": {"condition": {"test": "datum.value % 20 === 0", "value": 1}, "value": 0}}}}},
  {"data": {"name": "rows"}, "transform": [{"filter": "datum.p === 'H' && datum.k === 's'"}], "mark": {"type": "rule", "color": "#4a4a4a", "strokeWidth": 0.8, "clip": true},
   "encoding": {"x": {"field": "lo", "type": "quantitative", "title": "Proportion positive (restriction)", "scale": {"domain": [-9.7, 81.2], "nice": false, "zero": false}, "axis": {"values": [0,10,20,30,40,50,60,70,80], "labelExpr": "datum.value % 20 === 0 ? datum.label : ''", "tickOpacity": {"condition": {"test": "datum.value % 20 === 0", "value": 1}, "value": 0}}}, "x2": {"field": "hi"},
    "y": {"field": "label", "type": "nominal", "scale": {"type": "point", "domain": ["Fullerton 2011 - charcoal","Meghji 2016","Jary 2017 - cases","Jary 2017 - controls","Nightingale 2019","Cohen 2019"," ","Subgroup: Adult","  ","Cook 2013","Mwalukomo 2016","Rylance 2019 - intervention","Rylance 2019 - controls","Rylance 2019 - population","   ","Subgroup: Paediatric"], "padding": 1.17, "align": 0.62}, "axis": {"values": ["Fullerton 2011 - charcoal","Meghji 2016","Jary 2017 - cases","Jary 2017 - controls","Nightingale 2019","Cohen 2019","Subgroup: Adult","Cook 2013","Mwalukomo 2016","Rylance 2019 - intervention","Rylance 2019 - controls","Rylance 2019 - population","Subgroup: Paediatric"], "title": null, "minExtent": 66}}}},
  {"data": {"name": "rows"}, "transform": [{"filter": "datum.p === 'H' && datum.k === 's'"}], "mark": {"type": "point", "shape": "square", "filled": true, "color": "#0e2f68", "opacity": 1, "clip": true},
   "encoding": {"x": {"field": "est", "type": "quantitative", "title": "Proportion positive (restriction)", "scale": {"domain": [-9.7, 81.2], "nice": false, "zero": false}, "axis": {"values": [0,10,20,30,40,50,60,70,80], "labelExpr": "datum.value % 20 === 0 ? datum.label : ''", "tickOpacity": {"condition": {"test": "datum.value % 20 === 0", "value": 1}, "value": 0}}},
    "y": {"field": "label", "type": "nominal", "scale": {"type": "point", "domain": ["Fullerton 2011 - charcoal","Meghji 2016","Jary 2017 - cases","Jary 2017 - controls","Nightingale 2019","Cohen 2019"," ","Subgroup: Adult","  ","Cook 2013","Mwalukomo 2016","Rylance 2019 - intervention","Rylance 2019 - controls","Rylance 2019 - population","   ","Subgroup: Paediatric"], "padding": 1.17, "align": 0.62}, "axis": {"values": ["Fullerton 2011 - charcoal","Meghji 2016","Jary 2017 - cases","Jary 2017 - controls","Nightingale 2019","Cohen 2019","Subgroup: Adult","Cook 2013","Mwalukomo 2016","Rylance 2019 - intervention","Rylance 2019 - controls","Rylance 2019 - population","Subgroup: Paediatric"], "title": null, "minExtent": 66}},
    "size": {"field": "w", "type": "quantitative", "scale": {"domain": [0, 10], "range": [0, 20]}, "legend": null}}},
  {"data": {"name": "rows"}, "transform": [{"filter": "datum.p === 'H' && datum.k === 'g'"}], "mark": {"type": "point", "shape": "diamond", "filled": true, "size": 90, "color": "#0e2f68", "opacity": 1, "clip": true},
   "encoding": {"x": {"field": "est", "type": "quantitative", "title": "Proportion positive (restriction)", "scale": {"domain": [-9.7, 81.2], "nice": false, "zero": false}, "axis": {"values": [0,10,20,30,40,50,60,70,80], "labelExpr": "datum.value % 20 === 0 ? datum.label : ''", "tickOpacity": {"condition": {"test": "datum.value % 20 === 0", "value": 1}, "value": 0}}},
    "y": {"field": "label", "type": "nominal", "scale": {"type": "point", "domain": ["Fullerton 2011 - charcoal","Meghji 2016","Jary 2017 - cases","Jary 2017 - controls","Nightingale 2019","Cohen 2019"," ","Subgroup: Adult","  ","Cook 2013","Mwalukomo 2016","Rylance 2019 - intervention","Rylance 2019 - controls","Rylance 2019 - population","   ","Subgroup: Paediatric"], "padding": 1.17, "align": 0.62}, "axis": {"values": ["Fullerton 2011 - charcoal","Meghji 2016","Jary 2017 - cases","Jary 2017 - controls","Nightingale 2019","Cohen 2019","Subgroup: Adult","Cook 2013","Mwalukomo 2016","Rylance 2019 - intervention","Rylance 2019 - controls","Rylance 2019 - population","Subgroup: Paediatric"], "title": null, "minExtent": 66}}}},
  {"data": {"name": "rows"}, "transform": [{"filter": "datum.p === 'H' && datum.k === 'g'"}, {"fold": ["lo", "est"], "as": ["pt", "xv"]}], "mark": {"type": "trail", "color": "#0e2f68", "clip": true},
   "encoding": {"x": {"field": "xv", "type": "quantitative", "title": "Proportion positive (restriction)", "scale": {"domain": [-9.7, 81.2], "nice": false, "zero": false}, "axis": {"values": [0,10,20,30,40,50,60,70,80], "labelExpr": "datum.value % 20 === 0 ? datum.label : ''", "tickOpacity": {"condition": {"test": "datum.value % 20 === 0", "value": 1}, "value": 0}}},
    "y": {"field": "label", "type": "nominal", "scale": {"type": "point", "domain": ["Fullerton 2011 - charcoal","Meghji 2016","Jary 2017 - cases","Jary 2017 - controls","Nightingale 2019","Cohen 2019"," ","Subgroup: Adult","  ","Cook 2013","Mwalukomo 2016","Rylance 2019 - intervention","Rylance 2019 - controls","Rylance 2019 - population","   ","Subgroup: Paediatric"], "padding": 1.17, "align": 0.62}, "axis": {"values": ["Fullerton 2011 - charcoal","Meghji 2016","Jary 2017 - cases","Jary 2017 - controls","Nightingale 2019","Cohen 2019","Subgroup: Adult","Cook 2013","Mwalukomo 2016","Rylance 2019 - intervention","Rylance 2019 - controls","Rylance 2019 - population","Subgroup: Paediatric"], "title": null, "minExtent": 66}},
    "detail": {"field": "label"},
    "size": {"field": "pt", "type": "nominal", "scale": {"type": "point", "domain": ["lo", "est"], "range": [0, 8], "padding": 0}, "legend": null}}},
  {"data": {"name": "rows"}, "transform": [{"filter": "datum.p === 'H' && datum.k === 'g'"}, {"fold": ["est", "hi"], "as": ["pt", "xv"]}], "mark": {"type": "trail", "color": "#0e2f68", "clip": true},
   "encoding": {"x": {"field": "xv", "type": "quantitative", "title": "Proportion positive (restriction)", "scale": {"domain": [-9.7, 81.2], "nice": false, "zero": false}, "axis": {"values": [0,10,20,30,40,50,60,70,80], "labelExpr": "datum.value % 20 === 0 ? datum.label : ''", "tickOpacity": {"condition": {"test": "datum.value % 20 === 0", "value": 1}, "value": 0}}},
    "y": {"field": "label", "type": "nominal", "scale": {"type": "point", "domain": ["Fullerton 2011 - charcoal","Meghji 2016","Jary 2017 - cases","Jary 2017 - controls","Nightingale 2019","Cohen 2019"," ","Subgroup: Adult","  ","Cook 2013","Mwalukomo 2016","Rylance 2019 - intervention","Rylance 2019 - controls","Rylance 2019 - population","   ","Subgroup: Paediatric"], "padding": 1.17, "align": 0.62}, "axis": {"values": ["Fullerton 2011 - charcoal","Meghji 2016","Jary 2017 - cases","Jary 2017 - controls","Nightingale 2019","Cohen 2019","Subgroup: Adult","Cook 2013","Mwalukomo 2016","Rylance 2019 - intervention","Rylance 2019 - controls","Rylance 2019 - population","Subgroup: Paediatric"], "title": null, "minExtent": 66}},
    "detail": {"field": "label"},
    "size": {"field": "pt", "type": "nominal", "scale": {"type": "point", "domain": ["hi", "est"], "range": [0, 8], "padding": 0}, "legend": null}}}
 ]}
], "spacing": 0}
],
"spacing": 14,
"config": {
 "font": "Liberation Sans",
 "view": {"stroke": "#b5b5b5", "strokeWidth": 1},
 "axis": {"labelFont": "Liberation Sans", "labelFontSize": 4.6, "labelColor": "#555", "tickColor": "#888", "tickSize": 2, "tickWidth": 0.6, "labelPadding": 1, "titleFont": "Lato", "titleFontSize": 5.9, "titleFontWeight": "normal", "titleColor": "#222", "titlePadding": 2, "domain": false, "gridColor": "#e2e2e2", "gridWidth": 0.8, "labelFlush": false, "labelOverlap": false},
 "axisY": {"grid": false, "labelLimit": 300},
 "title": {"font": "Lato", "fontSize": 10.5, "fontWeight": "normal", "color": "#1a1a1a", "anchor": "middle", "frame": "group", "offset": 5},
 "legend": {"disable": true}
}
}
